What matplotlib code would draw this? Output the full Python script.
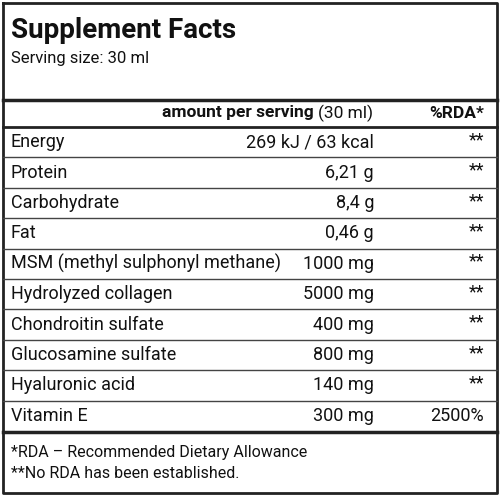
import matplotlib
matplotlib.use('Agg')
import matplotlib.pyplot as plt

title = "Supplement Facts"
serving = "Serving size: 30 ml"
nutrients = ["Energy", "Protein", "Carbohydrate", "Fat",
             "MSM (methyl sulphonyl methane)", "Hydrolyzed collagen",
             "Chondroitin sulfate", "Glucosamine sulfate", "Hyaluronic acid",
             "Vitamin E"]
amounts = ["269 kJ / 63 kcal", "6,21 g", "8,4 g", "0,46 g", "1000 mg",
           "5000 mg", "400 mg", "800 mg", "140 mg", "300 mg"]
rda = ["**", "**", "**", "**", "**", "**", "**", "**", "**", "2500%"]
footnotes = ["*RDA \u2013 Recommended Dietary Allowance",
             "**No RDA has been established."]

plt.rcParams['font.family'] = ['Roboto', 'DejaVu Sans']
fig = plt.figure(figsize=(5, 5), dpi=100)
ax = fig.add_axes([0, 0, 1, 1])
ax.set_xlim(0, 500)
ax.set_ylim(500, 0)
ax.axis('off')

dark = '#222222'
# outer frame
ax.plot([3, 497, 497, 3, 3], [3, 3, 493, 493, 3], color=dark, lw=2)
ax.text(11, 31, title, fontsize=20, fontweight='bold', va='center', color='#111')
ax.text(11, 59, serving, fontsize=12, va='center', color='#111')
ax.plot([3, 497], [100, 100], color=dark, lw=2.5)
ax.text(314, 113, "amount per serving", fontsize=12.5, fontweight='bold',
        ha='right', va='center', color='#111')
ax.text(318, 113, "(30 ml)", fontsize=12.5, ha='left', va='center', color='#111')
ax.text(484, 113, "%RDA*", fontsize=12.5, fontweight='bold', ha='right',
        va='center', color='#111')
ax.plot([3, 497], [127, 127], color=dark, lw=2)

row_h = 30.4
y0 = 127
for i, (n, a, r) in enumerate(zip(nutrients, amounts, rda)):
    yc = y0 + row_h * (i + 0.5)
    ax.text(11, yc, n, fontsize=13, va='center', color='#111')
    ax.text(374, yc, a, fontsize=13, ha='right', va='center', color='#111')
    ax.text(484, yc - (2 if r == "**" else 0), r, fontsize=13, ha='right',
            va='center', color='#111')
    if i < len(nutrients) - 1:
        ax.plot([3, 497], [y0 + row_h * (i + 1)] * 2, color='#444', lw=1)
ax.plot([3, 497], [432, 432], color=dark, lw=2.5)

for i, f in enumerate(footnotes):
    ax.text(11, 452 + 22 * i, f, fontsize=11.5, va='center', color='#111')

fig.savefig('out.png', dpi=100)
